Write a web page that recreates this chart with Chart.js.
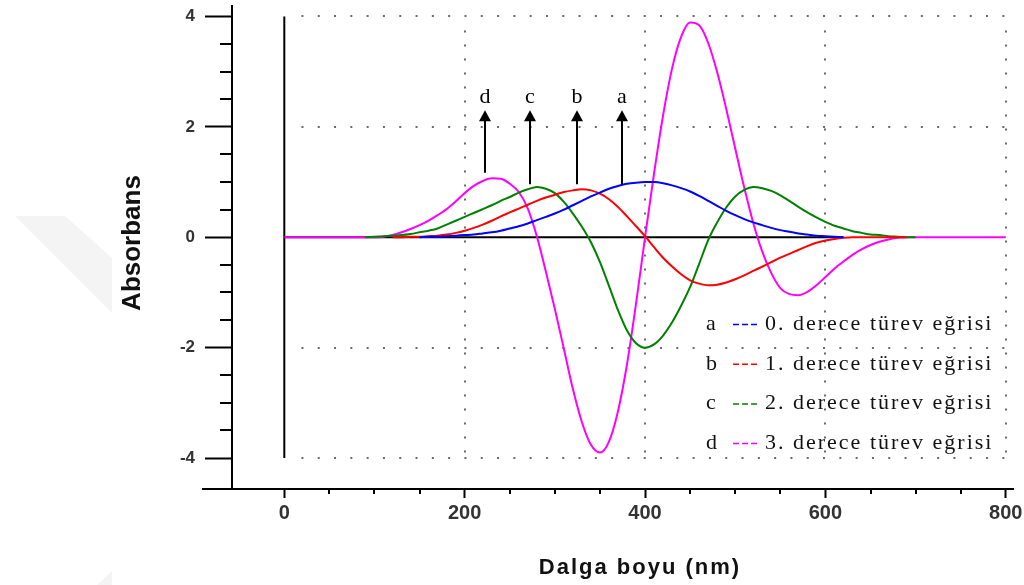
<!DOCTYPE html>
<html>
<head>
<meta charset="utf-8">
<script src="https://cdn.jsdelivr.net/npm/chart.js@4.4.0/dist/chart.umd.min.js"></script>
<style>
  html, body { margin: 0; padding: 0; background: #fff; }
  canvas { display: block; }
</style>
</head>
<body>
<canvas id="grafik" width="1024" height="585"></canvas>
<script>
// dalga boyu (nm) - ortak x noktalari
const dalgaBoyu = [0,
  90, 100, 110, 120, 130, 140, 150, 160, 170, 180,
  190, 200, 210, 220, 230, 240, 250, 260, 270, 280,
  290, 300, 310, 320, 330, 340, 350, 360, 370, 380,
  390, 400, 410, 420, 430, 440, 450, 460, 470, 480,
  490, 500, 510, 520, 530, 540, 550, 560, 570, 580,
  590, 600, 610, 620, 630, 640, 650, 660, 670, 680,
  690, 700,
  800];

// a: 0. derece (mavi)
const egriA = [null,
  null, null, null, null, null, null, 0.00, 0.01, 0.01, 0.02,
  0.03, 0.04, 0.05, 0.07, 0.09, 0.12, 0.16, 0.20, 0.25, 0.31,
  0.37, 0.43, 0.50, 0.58, 0.66, 0.74, 0.81, 0.88, 0.93, 0.97,
  0.99, 1.00, 1.00, 0.98, 0.94, 0.89, 0.83, 0.75, 0.66, 0.57,
  0.48, 0.40, 0.33, 0.27, 0.22, 0.17, 0.13, 0.10, 0.07, 0.05,
  0.03, 0.02, 0.01, 0.00, null, null, null, null, null, null,
  null, null,
  null];

// b: 1. derece (kirmizi)
const egriB = [null,
  null, null, null, 0.00, 0.00, 0.01, 0.01, 0.02, 0.03, 0.05,
  0.08, 0.12, 0.17, 0.23, 0.30, 0.38, 0.45, 0.52, 0.59, 0.66,
  0.72, 0.77, 0.82, 0.85, 0.87, 0.85, 0.79, 0.69, 0.55, 0.38,
  0.20, 0.02, -0.18, -0.37, -0.53, -0.67, -0.78, -0.84, -0.87, -0.86,
  -0.82, -0.76, -0.69, -0.61, -0.53, -0.45, -0.37, -0.30, -0.23, -0.16,
  -0.10, -0.06, -0.03, -0.01, 0.00, 0.00, 0.00, 0.00, 0.00, 0.00,
  0.00, null,
  null];

// c: 2. derece (yesil)
const egriC = [null,
  0.00, 0.01, 0.02, 0.03, 0.04, 0.06, 0.09, 0.12, 0.16, 0.23,
  0.30, 0.37, 0.44, 0.51, 0.58, 0.66, 0.73, 0.81, 0.87, 0.91,
  0.88, 0.80, 0.64, 0.43, 0.19, -0.09, -0.45, -0.88, -1.32, -1.69,
  -1.92, -2.00, -1.94, -1.78, -1.54, -1.24, -0.90, -0.48, -0.05, 0.27,
  0.54, 0.74, 0.86, 0.91, 0.89, 0.84, 0.76, 0.66, 0.55, 0.45,
  0.36, 0.28, 0.21, 0.16, 0.11, 0.08, 0.05, 0.04, 0.02, 0.01,
  0.00, 0.00,
  null];

// d: 3. derece (pembe)
const egriD = [0.00,
  0.00, 0.00, 0.01, 0.04, 0.09, 0.15, 0.22, 0.30, 0.40, 0.51,
  0.65, 0.80, 0.93, 1.02, 1.07, 1.06, 0.97, 0.82, 0.52, 0.02,
  -0.62, -1.30, -2.02, -2.75, -3.35, -3.76, -3.90, -3.70, -3.15, -2.30,
  -1.20, 0.00, 1.16, 2.21, 3.06, 3.63, 3.89, 3.84, 3.52, 2.99,
  2.33, 1.61, 0.90, 0.26, -0.26, -0.65, -0.92, -1.03, -1.05, -0.99,
  -0.87, -0.72, -0.57, -0.44, -0.32, -0.22, -0.14, -0.08, -0.04, -0.01,
  0.00, 0.00,
  0.00];

const seriAdlari = ["0. derece türev eğrisi", "1. derece türev eğrisi", "2. derece türev eğrisi", "3. derece türev eğrisi"];
const seriHarf = ["a", "b", "c", "d"];
const seriRenk = ["#0000ff", "#ff0000", "#008000", "#ff00ff"];

// eksen etiketleri
const xEtiket = [0, 200, 400, 600, 800];
const yEtiket = [-4, -2, 0, 2, 4];
const xAraTik = [50, 100, 150, 250, 300, 350, 450, 500, 550, 650, 700, 750];
const yAraTik = [-3.5, -3, -2.5, -1.5, -1, -0.5, 0.5, 1, 1.5, 2.5, 3, 3.5];
const xIzgara = [200, 400, 600, 800];
const yIzgara = [-4, -2, 2, 4];

// oklar (d c b a)
const okHarf = ["d", "c", "b", "a"];
const okX = [222, 272, 324, 374];
const okTaban = [1.17, 0.96, 0.96, 0.96];
const okUc = 2.3;

const tabloVeri = (degerler) => dalgaBoyu.map((x, i) => ({ x: x, y: degerler[i] }));
const seriler = [egriA, egriB, egriC, egriD];

const cizimler = {
  id: "cizimler",
  beforeDraw(chart) {
    const ctx = chart.ctx;
    // soluk filigran
    ctx.save();
    ctx.fillStyle = "#f4f4f4";
    ctx.beginPath();
    ctx.moveTo(15, 216); ctx.lineTo(65, 216); ctx.lineTo(112, 258); ctx.lineTo(112, 313);
    ctx.closePath(); ctx.fill();
    ctx.beginPath();
    ctx.moveTo(112, 571); ctx.lineTo(97, 585); ctx.lineTo(112, 585);
    ctx.closePath(); ctx.fill();
    ctx.restore();
  },
  beforeDatasetsDraw(chart) {
    const { ctx, scales: { x, y } } = chart;
    ctx.save();
    // noktali izgara
    ctx.strokeStyle = "#6a6a6a";
    ctx.lineWidth = 2;
    ctx.setLineDash([2, 14.3]);
    yIzgara.forEach(v => {
      const py = Math.round(y.getPixelForValue(v));
      ctx.beginPath();
      ctx.moveTo(x.getPixelForValue(19), py);
      ctx.lineTo(x.getPixelForValue(802), py);
      ctx.stroke();
    });
    ctx.setLineDash([2, 12]);
    xIzgara.forEach(v => {
      const px = Math.round(x.getPixelForValue(v));
      ctx.beginPath();
      ctx.moveTo(px, y.getPixelForValue(4) + 14);
      ctx.lineTo(px, y.getPixelForValue(-4));
      ctx.stroke();
    });
    // siyah sifir cizgileri
    ctx.setLineDash([]);
    ctx.strokeStyle = "#000";
    ctx.beginPath();
    ctx.moveTo(x.getPixelForValue(0), y.getPixelForValue(4));
    ctx.lineTo(x.getPixelForValue(0), y.getPixelForValue(-4));
    ctx.stroke();
    ctx.beginPath();
    ctx.moveTo(x.getPixelForValue(0), y.getPixelForValue(0));
    ctx.lineTo(x.getPixelForValue(620), y.getPixelForValue(0));
    ctx.stroke();
    ctx.restore();
  },
  afterDatasetsDraw(chart) {
    const { ctx, scales: { x, y } } = chart;
    ctx.save();
    ctx.strokeStyle = "#000";
    ctx.fillStyle = "#000";
    ctx.lineWidth = 2;
    ctx.font = "22px 'Liberation Serif'";
    ctx.textAlign = "center";
    ctx.textBaseline = "alphabetic";
    okHarf.forEach((h, i) => {
      const px = Math.round(x.getPixelForValue(okX[i]));
      const alt = y.getPixelForValue(okTaban[i]);
      const uc = y.getPixelForValue(okUc);
      ctx.beginPath();
      ctx.moveTo(px, alt);
      ctx.lineTo(px, uc + 8);
      ctx.stroke();
      ctx.beginPath();
      ctx.moveTo(px, uc);
      ctx.lineTo(px - 6, uc + 11);
      ctx.lineTo(px + 6, uc + 11);
      ctx.closePath();
      ctx.fill();
      ctx.fillText(h, px, uc - 7);
    });
    ctx.restore();
  },
  afterDraw(chart) {
    const { ctx, chartArea, scales: { x, y } } = chart;
    ctx.save();
    ctx.strokeStyle = "#000";
    ctx.lineWidth = 2;
    // x ekseninin sola uzantisi
    ctx.beginPath();
    ctx.moveTo(202, chartArea.bottom);
    ctx.lineTo(chartArea.left, chartArea.bottom);
    ctx.stroke();
    // ara tikler
    yAraTik.forEach(v => {
      const py = Math.round(y.getPixelForValue(v));
      ctx.beginPath();
      ctx.moveTo(chartArea.left - 12, py);
      ctx.lineTo(chartArea.left, py);
      ctx.stroke();
    });
    xAraTik.forEach(v => {
      const px = Math.round(x.getPixelForValue(v));
      ctx.beginPath();
      ctx.moveTo(px, chartArea.bottom);
      ctx.lineTo(px, chartArea.bottom + 5);
      ctx.stroke();
    });

    // eksen basliklari
    ctx.fillStyle = "#111";
    ctx.textAlign = "center";
    ctx.textBaseline = "middle";
    ctx.font = "bold 26px 'Liberation Sans'";
    ctx.save();
    ctx.translate(133, 243);
    ctx.rotate(-Math.PI / 2);
    ctx.fillText("Absorbans", 0, 0);
    ctx.restore();
    ctx.font = "bold 22px 'Liberation Sans'";
    ctx.letterSpacing = "2px";
    ctx.fillText("Dalga boyu (nm)", 640, 568);
    ctx.letterSpacing = "0px";

    // gosterge
    ctx.textAlign = "left";
    ctx.textBaseline = "alphabetic";
    seriAdlari.forEach((ad, i) => {
      const by = 330 + i * 39.7;
      ctx.font = "22px 'Liberation Serif'";
      ctx.fillStyle = "#111";
      ctx.letterSpacing = "0px";
      ctx.fillText(seriHarf[i], 706, by);
      ctx.strokeStyle = seriRenk[i];
      ctx.lineWidth = 1.5;
      ctx.setLineDash([6, 3]);
      ctx.beginPath();
      ctx.moveTo(733, by - 5.5);
      ctx.lineTo(757, by - 5.5);
      ctx.stroke();
      ctx.setLineDash([]);
      ctx.font = "22px 'Liberation Serif'";
      ctx.letterSpacing = "2px";
      ctx.fillText(ad, 765, by);
    });
    ctx.restore();
  }
};

new Chart(document.getElementById("grafik"), {
  type: "line",
  data: {
    datasets: seriler.map((s, i) => ({
      label: seriHarf[i] + " " + seriAdlari[i],
      data: tabloVeri(s),
      borderColor: seriRenk[i],
      borderWidth: 2,
      pointRadius: 0,
      fill: false,
      spanGaps: false,
      cubicInterpolationMode: "monotone",
      order: i
    }))
  },
  options: {
    responsive: false,
    animation: false,
    layout: { padding: { top: 6, right: 11, left: 0, bottom: 0 } },
    plugins: { legend: { display: false }, tooltip: { enabled: false } },
    scales: {
      x: {
        type: "linear",
        min: -58,
        max: 808,
        afterBuildTicks: s => { s.ticks = xEtiket.map(v => ({ value: v })); },
        afterFit: s => { s.height = 96; s.paddingLeft = 0; s.paddingRight = 0; },
        grid: { drawOnChartArea: false, drawTicks: true, tickLength: 9, tickColor: "#000", tickWidth: 2 },
        border: { display: true, color: "#000", width: 2 },
        ticks: {
          padding: 3,
          color: "#333",
          font: { family: "'Liberation Sans'", size: 20, weight: "bold" },
          maxRotation: 0,
          callback: v => String(v)
        }
      },
      y: {
        type: "linear",
        min: -4.56,
        max: 4.19,
        afterBuildTicks: s => { s.ticks = yEtiket.map(v => ({ value: v })); },
        afterFit: s => { s.width = 232; s.paddingTop = 0; s.paddingBottom = 0; },
        grid: { drawOnChartArea: false, drawTicks: true, tickLength: 27, tickColor: "#000", tickWidth: 2 },
        border: { display: true, color: "#000", width: 2 },
        ticks: {
          padding: 10,
          color: "#333",
          font: { family: "'Liberation Sans'", size: 17, weight: "bold" },
          callback: v => String(v)
        }
      }
    }
  },
  plugins: [cizimler]
});
</script>
</body>
</html>
